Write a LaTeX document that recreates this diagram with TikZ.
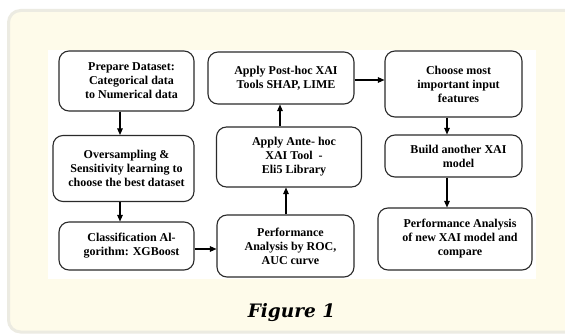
\documentclass[tikz,border=0pt]{standalone}
\usepackage{fontspec}
\setmainfont{Liberation Serif}
\newfontfamily\capfont{DejaVu Serif}
\usetikzlibrary{arrows.meta}
\definecolor{panelfill}{HTML}{FEFBEA}
\definecolor{panelline}{HTML}{ECEBE2}
\definecolor{boxline}{HTML}{2A2A2A}
\tikzset{
  stepbox/.style={draw=boxline, line width=1.1pt, rounded corners=10pt, inner sep=0pt},
  steptext/.style={align=center, font=\fontsize{12}{14}\selectfont\bfseries, inner sep=0pt, xshift=5pt},
  flow/.style={line width=1.1pt, draw=black, -{Triangle[width=5.5pt,length=6.5pt]}}
}
\begin{document}
\begin{tikzpicture}[x=1pt,y=-1pt]
\useasboundingbox (0,0) rectangle (565,334);
\fill[white] (0,0) rectangle (565,334);
\begin{scope}
\clip (0,0) rectangle (565,334);
\draw[panelline, line width=3pt, fill=panelfill, rounded corners=12pt] (8.5,10.5) rectangle (600,332);
\end{scope}
\fill[white] (48,50) rectangle (536,279);
% boxes
\node[stepbox, minimum width=135pt, minimum height=60pt] (b1) at (126.5,81) {};
\node[stepbox, minimum width=141pt, minimum height=66pt] (b2) at (123.5,168.5) {};
\node[stepbox, minimum width=135pt, minimum height=48pt] (b3) at (126.5,246) {};
\node[stepbox, minimum width=137pt, minimum height=62pt] (b4) at (285.5,246) {};
\node[stepbox, minimum width=145pt, minimum height=60pt] (b5) at (289,157) {};
\node[stepbox, minimum width=146pt, minimum height=52pt] (b6) at (281,78) {};
\node[stepbox, minimum width=137pt, minimum height=66pt] (b7) at (453.5,84) {};
\node[stepbox, minimum width=137pt, minimum height=42pt] (b8) at (453.5,156) {};
\node[stepbox, minimum width=154pt, minimum height=62pt] (b9) at (455,239) {};
% texts
\node[steptext] (t1) at (b1.center) {Prepare Dataset:\\Categorical data\\to Numerical data};
\node[steptext, xshift=-2pt] (t2) at (b2.center) {Oversampling \&\\Sensitivity learning to\\choose the best dataset};
\node[steptext] (t3) at (b3.center) {Classification Al-\\gorithm: XGBoost};
\node[steptext] (t4) at (b4.center) {Performance\\Analysis by ROC,\\AUC curve};
\node[steptext] (t5) at (b5.center) {Apply Ante- hoc\\XAI Tool\ \ -\\Eli5 Library};
\node[steptext] (t6) at (b6.center) {Apply Post-hoc XAI\\Tools SHAP, LIME};
\node[steptext] (t7) at (b7.center) {Choose most\\important input\\features};
\node[steptext] (t8) at (b8.center) {Build another XAI\\model};
\node[steptext] (t9) at (b9.center) {Performance Analysis\\of new XAI model and\\compare};
% arrows
\draw[flow] (b1.south -| 120,0) -- (b2.north -| 120,0);
\draw[flow] (b2.south -| 120,0) -- (b3.north -| 120,0);
\draw[flow] (b3.east |- 0,249) -- (b4.west |- 0,249);
\draw[flow] (b4.north -| 286,0) -- (b5.south -| 286,0);
\draw[flow] (b5.north -| 280,0) -- (b6.south -| 280,0);
\draw[flow] (b6.east |- 0,80) -- (b7.west |- 0,80);
\draw[flow] (b7.south -| 447,0) -- (b8.north -| 447,0);
\draw[flow] (b8.south -| 447,0) -- (b9.north -| 447,0);
\node[font=\capfont\fontsize{18.5}{22}\selectfont\bfseries\itshape, anchor=base] (cap) at (291.5,317) {Figure 1};
\end{tikzpicture}
\end{document}
